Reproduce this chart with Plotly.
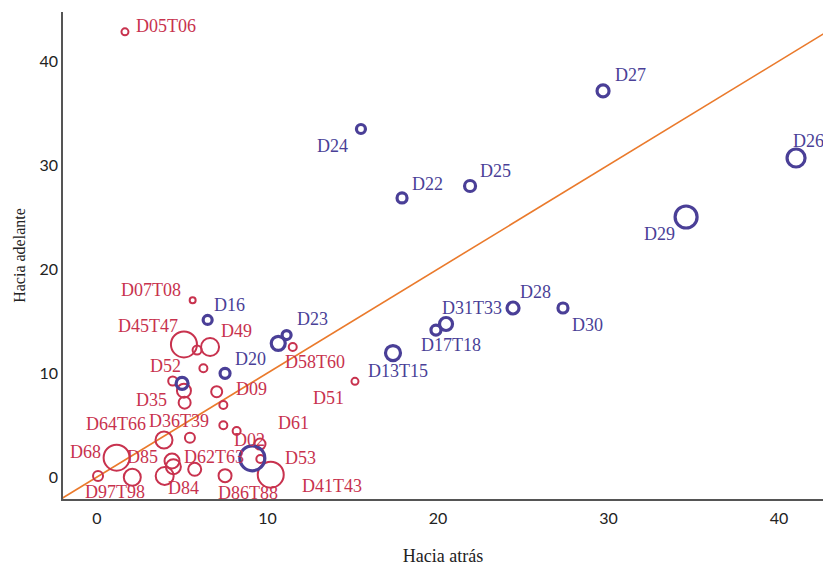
import plotly.graph_objects as go

# ---- data ----
red_names = ["D05T06", "D07T08", "D45T47", "", "D49", "", "D52", "", "D35", "D09", "", "", "D02",
             "D61", "D53", "D41T43", "D64T66", "D36T39", "D68", "D97T98", "", "D85", "", "D84",
             "D62T63", "D86T88", "D58T60", "D51"]
red_x = [1.64, 5.61, 5.10, 5.87, 6.63, 6.24, 4.44, 5.10, 5.14, 7.02, 7.41, 7.41, 8.19,
         9.56, 9.58, 10.19, 3.93, 5.45, 1.15, 0.06, 2.07, 4.40, 4.48, 3.97,
         5.73, 7.51, 11.48, 15.13]
red_y = [42.8, 17.0, 12.75, 12.2, 12.5, 10.45, 9.23, 8.3, 7.15, 8.2, 6.92, 4.97, 4.42,
         3.17, 1.73, 0.22, 3.56, 3.78, 1.86, 0.10, -0.03, 1.54, 0.99, 0.10,
         0.74, 0.13, 12.5, 9.2]
red_size = [7, 6, 26, 9, 18, 8, 9, 14, 12, 11, 8, 8, 8,
            11, 8, 26, 17, 10, 26, 10, 17, 15, 15, 18,
            13, 13, 8, 7]

blue_names = ["D16", "D20", "D23", "", "", "", "D24", "D22", "D25", "D27", "D26", "D29",
              "D28", "D30", "D31T33", "D17T18", "D13T15"]
blue_x = [6.49, 7.51, 11.12, 10.63, 4.99, 9.11, 15.48, 17.89, 21.88, 29.68, 41.0, 34.55,
          24.4, 27.33, 20.47, 19.88, 17.36]
blue_y = [15.1, 9.97, 13.65, 12.85, 9.0, 1.8, 33.46, 26.83, 27.98, 37.12, 30.67, 25.0,
          16.25, 16.25, 14.71, 14.13, 11.92]
blue_size = [9, 10, 9, 14, 12, 25, 9, 10, 11, 12, 18, 22,
             12, 10, 13, 10, 15]

x_ticks = [0, 10, 20, 30, 40]
y_ticks = [0, 10, 20, 30, 40]
x_title = "Hacia atrás"
y_title = "Hacia adelante"

# ---- styles ----
RED = "#C8324E"
BLUE = "#4A3F97"
ORANGE = "#EA7A2C"
SERIF = "Liberation Serif"
SANS = "Lato"
LABEL_SIZE = 18

# label placement: name -> (xanchor, dx, dy) in pixels (dy positive = down)
label_pos = {
    "D05T06": ("left", 9, -6), "D07T08": ("right", -10, -10), "D45T47": ("right", -4, -18),
    "D49": ("left", 9, -16), "D52": ("right", 10, -15), "D35": ("right", -16, -3),
    "D09": ("left", 17, -3), "D02": ("left", -5, 9), "D61": ("left", 16, -21),
    "D53": ("left", 23, -1), "D41T43": ("left", 29, 11), "D64T66": ("right", -16, -16),
    "D36T39": ("center", -11, -17), "D68": ("right", -14, -6), "D97T98": ("left", -15, 16),
    "D85": ("right", -12, -4), "D84": ("left", 1, 12), "D62T63": ("left", -13, -12),
    "D86T88": ("left", -9, 17), "D58T60": ("left", -10, 15), "D51": ("right", -9, 17),
    "D16": ("left", 4, -15), "D20": ("left", 8, -14), "D23": ("left", 8, -16),
    "D24": ("right", -11, 17), "D22": ("left", 8, -14), "D25": ("left", 8, -15),
    "D27": ("left", 10, -16), "D26": ("left", -5, -17), "D29": ("right", -9, 17),
    "D28": ("left", 5, -16), "D30": ("left", 7, 17), "D31T33": ("left", -6, -16),
    "D17T18": ("left", -17, 15), "D13T15": ("left", -27, 18),
}

fig = go.Figure()

fig.add_trace(go.Scatter(
    x=[-3, 45], y=[-3, 45], mode="lines",
    line=dict(color=ORANGE, width=1.6), hoverinfo="skip", showlegend=False))

fig.add_trace(go.Scatter(
    x=red_x, y=red_y, mode="markers", text=red_names,
    marker=dict(size=red_size, opacity=1, color="rgba(0,0,0,0)",
                line=dict(color=RED, width=2)),
    showlegend=False, cliponaxis=False))
fig.add_trace(go.Scatter(
    x=blue_x, y=blue_y, mode="markers", text=blue_names,
    marker=dict(size=blue_size, opacity=1, color="rgba(0,0,0,0)",
                line=dict(color=BLUE, width=3.2)),
    showlegend=False, cliponaxis=False))

annotations = []
for names, xs, ys, col in [(red_names, red_x, red_y, RED), (blue_names, blue_x, blue_y, BLUE)]:
    for n, xv, yv in zip(names, xs, ys):
        if not n:
            continue
        anc, dx, dy = label_pos[n]
        annotations.append(dict(
            x=xv, y=yv, text=n, showarrow=False, xanchor=anc, yanchor="middle",
            xshift=dx, yshift=-dy, font=dict(family=SERIF, size=LABEL_SIZE, color=col)))

fig.update_layout(
    width=823, height=566,
    margin=dict(l=63, r=0, t=12, b=67),
    paper_bgcolor="white", plot_bgcolor="white",
    annotations=annotations,
    xaxis=dict(range=[-1.994, 42.58], tickvals=x_ticks, showgrid=False, zeroline=False,
               showline=True, linecolor="#555555", linewidth=1.5, ticks="",
               automargin=False, ticklabelstandoff=4,
               tickfont=dict(family=SANS, size=16, color="#222222"),
               title=dict(text=x_title, font=dict(family=SERIF, size=18, color="#222222"),
                          standoff=32)),
    yaxis=dict(range=[-2.115, 44.71], tickvals=y_ticks, showgrid=False, zeroline=False,
               showline=True, linecolor="#555555", linewidth=1.5, ticks="",
               automargin=False,
               tickfont=dict(family=SANS, size=16, color="#222222"),
               title=dict(text=y_title, font=dict(family=SERIF, size=16, color="#222222"),
                          standoff=10)),
)

fig.write_html("out.html", config={"displayModeBar": False},
               post_script="document.body.style.margin='0px';")
